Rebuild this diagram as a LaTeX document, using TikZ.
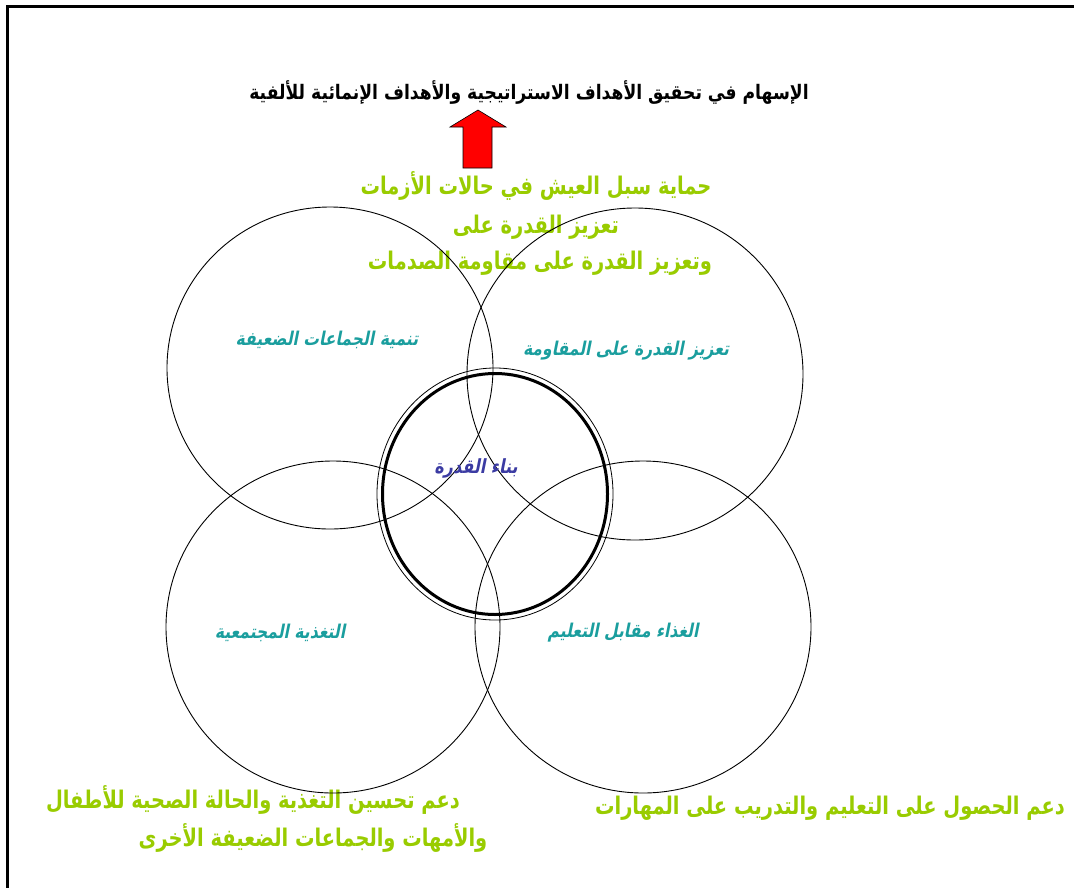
\documentclass[tikz,border=0pt]{standalone}
\usepackage{fontspec}
\usetikzlibrary{shapes.geometric}
\TeXXeTstate=1
\newfontfamily\arbtitle[Script=Arabic,FakeStretch=0.86]{DejaVu Sans Bold}
\newfontfamily\arbgreen[Script=Arabic,FakeStretch=0.8]{DejaVu Sans Bold}
\newfontfamily\arbit[Script=Arabic,FakeSlant=0.2,FakeStretch=0.82]{DejaVu Sans Bold}
\definecolor{lgreen}{HTML}{99CC00}
\definecolor{tealc}{HTML}{1A9E9E}
\definecolor{cblue}{HTML}{3B3BA3}
\begin{document}
\begin{tikzpicture}[x=1pt,y=-1pt,
  ring/.style={draw=black,line width=0.9pt,ellipse,inner sep=0pt},
  titletext/.style={font=\arbtitle\fontsize{20}{24}\selectfont,text=black,inner sep=0pt},
  greentext/.style={font=\arbgreen\fontsize{24.3}{29}\selectfont,text=lgreen,inner sep=0pt},
  tealtext/.style={font=\arbit\fontsize{19}{23}\selectfont,text=tealc,inner sep=0pt},
  bluetext/.style={font=\arbit\fontsize{19.5}{23}\selectfont,text=cblue,inner sep=0pt}]
\useasboundingbox (0,0) rectangle (1074,887);
\fill[white] (0,0) rectangle (1074,887);
\draw[line width=2.5pt] (7.5,1000) -- (7.5,6.5) -- (1100,6.5);
% title and arrow
\node[titletext] (title) at (529,93) {\beginR الإسهام في تحقيق الأهداف الاستراتيجية والأهداف الإنمائية للألفية\endR};
\draw[fill=red,draw=black,line width=0.6pt] (478,110) -- (506,127) -- (492,127) -- (492,168) -- (463,168) -- (463,127) -- (450,127) -- cycle;
% green texts
\node[greentext] (g1) at (536,186) {\beginR حماية سبل العيش في حالات الأزمات\endR};
\node[greentext] (g2) at (536,227) {\beginR تعزيز القدرة على\endR};
\node[greentext] (g3) at (540,263) {\beginR وتعزيز القدرة على مقاومة الصدمات\endR};
\node[greentext] (bl1) at (253,800) {\beginR دعم تحسين التغذية والحالة الصحية للأطفال\endR};
\node[greentext] (bl2) at (313,838) {\beginR والأمهات والجماعات الضعيفة الأخرى\endR};
\node[greentext] (br1) at (830,808) {\beginR دعم الحصول على التعليم والتدريب على المهارات\endR};
% circles
\node[ring,minimum width=326pt,minimum height=322pt] (tl) at (330,368) {};
\node[ring,minimum width=336pt,minimum height=332pt] (tr) at (635,374) {};
\node[ring,minimum width=334pt,minimum height=332pt] (bl) at (333,627) {};
\node[ring,minimum width=336pt,minimum height=332pt] (br) at (643,627) {};
\node[ring,line width=0.8pt,minimum width=236pt,minimum height=252pt] (cout) at (495,494) {};
\node[ring,line width=3pt,minimum width=225pt,minimum height=241pt] (cin) at (495,494) {};
% circle labels
\node[tealtext] (t1) at (327,340) {\beginR تنمية الجماعات الضعيفة\endR};
\node[tealtext] (t2) at (626,351) {\beginR تعزيز القدرة على المقاومة\endR};
\node[tealtext] (t3) at (280,633) {\beginR التغذية المجتمعية\endR};
\node[tealtext] (t4) at (623,633) {\beginR الغذاء مقابل التعليم\endR};
\node[bluetext] (cb) at (476,468) {\beginR بناء القدرة\endR};
\end{tikzpicture}
\end{document}
